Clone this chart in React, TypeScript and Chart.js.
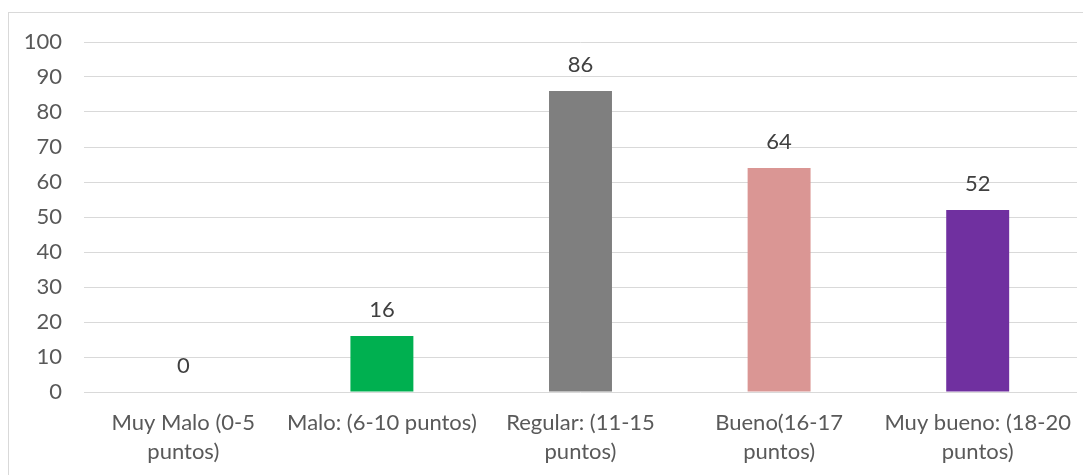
import React, { useEffect, useRef } from "react";
import { Chart, registerables } from "chart.js";

Chart.register(...registerables);

const categories: string[][] = [
  ["Muy Malo (0-5", "puntos)"],
  ["Malo: (6-10 puntos)"],
  ["Regular: (11-15", "puntos)"],
  ["Bueno(16-17", "puntos)"],
  ["Muy bueno: (18-20", "puntos)"],
];
const values: number[] = [0, 16, 86, 64, 52];
const barColors: string[] = ["#4472c4", "#00b050", "#7f7f7f", "#da9694", "#7030a0"];
const yTicks: number[] = [0, 10, 20, 30, 40, 50, 60, 70, 80, 90, 100];

const FONT = "Lato, 'Open Sans', sans-serif";

const valueLabels = {
  id: "valueLabels",
  afterDatasetsDraw(chart: any) {
    const ctx = chart.ctx;
    const meta = chart.getDatasetMeta(0);
    ctx.save();
    ctx.font = `22px ${FONT}`;
    ctx.fillStyle = "#404040";
    ctx.textAlign = "center";
    ctx.textBaseline = "middle";
    meta.data.forEach((el: any, i: number) => {
      ctx.fillText(String(values[i]), el.x, el.y - 26);
    });
    ctx.restore();
  },
};

export default function App() {
  const ref = useRef<HTMLCanvasElement | null>(null);
  useEffect(() => {
    if (!ref.current) return;
    const chart = new Chart(ref.current, {
      type: "bar",
      data: {
        labels: categories,
        datasets: [
          {
            data: values,
            backgroundColor: barColors,
            borderWidth: 0,
            barPercentage: 0.317,
            categoryPercentage: 1,
          },
        ],
      },
      options: {
        animation: false,
        responsive: false,
        maintainAspectRatio: false,
        layout: { padding: { top: 29, right: 14, left: 0, bottom: 0 } },
        plugins: { legend: { display: false }, tooltip: { enabled: false } },
        scales: {
          x: {
            grid: { display: false, drawTicks: false },
            border: { display: false },
            ticks: {
              color: "#595959",
              font: { family: FONT, size: 22, lineHeight: 29 / 22 },
              padding: 16,
              maxRotation: 0,
              autoSkip: false,
            },
            afterFit(scale: any) {
              scale.height = 83;
              scale.paddingTop = 0;
              scale.paddingBottom = 0;
            },
          },
          y: {
            min: 0,
            max: 100,
            afterBuildTicks(scale: any) {
              scale.ticks = yTicks.map((v) => ({ value: v }));
            },
            grid: { color: "#d9d9d9", lineWidth: 1, drawTicks: false },
            border: { display: false },
            ticks: {
              color: "#595959",
              font: { family: FONT, size: 22 },
              padding: 22,
            },
            afterFit(scale: any) {
              scale.width = 75;
              scale.paddingTop = 0;
              scale.paddingBottom = 0;
            },
          },
        },
      },
      plugins: [valueLabels],
    });
    return () => chart.destroy();
  }, []);

  return (
    <div style={{ paddingTop: 4 }}>
      <div
        style={{
          width: 1082,
          height: 462,
          borderTop: "1px solid #d9d9d9",
          borderLeft: "1px solid #d9d9d9",
          background: "#fff",
        }}
      >
        <canvas ref={ref} width={1082} height={462} style={{ display: "block" }} />
      </div>
    </div>
  );
}
